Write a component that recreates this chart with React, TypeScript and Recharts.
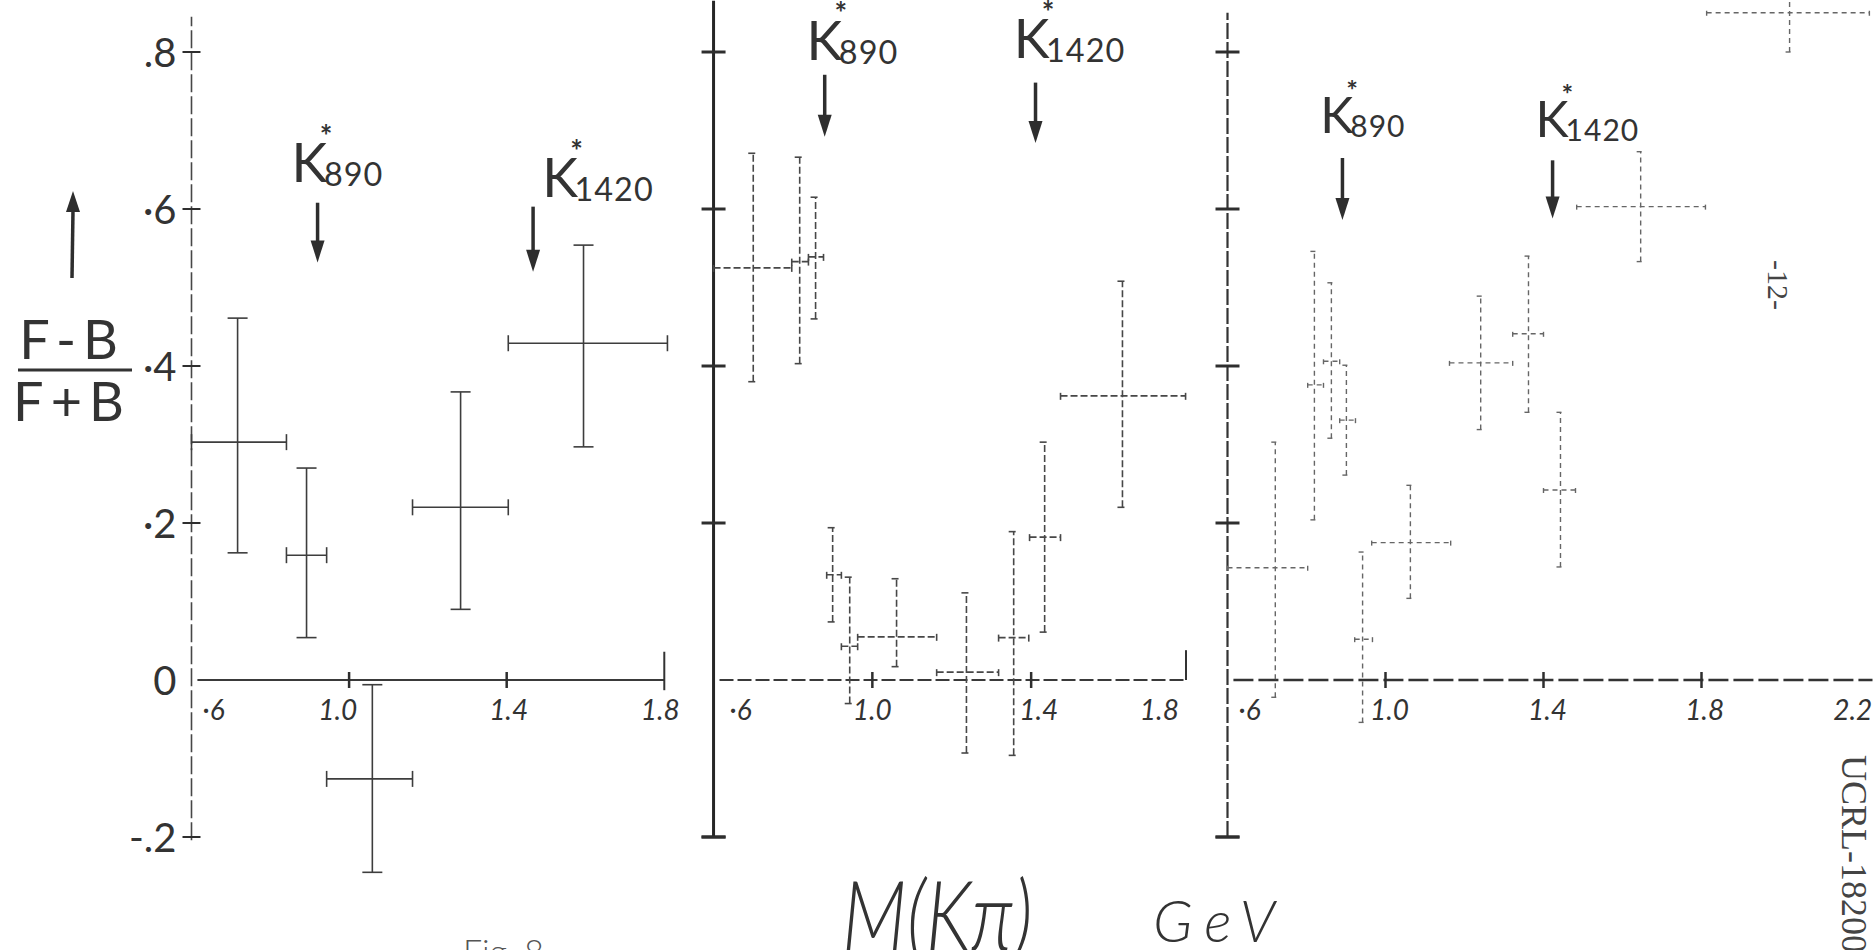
import React from 'react';
import { ScatterChart, Scatter, ErrorBar, XAxis, YAxis, ReferenceLine, ReferenceDot } from 'recharts';

// forward-backward asymmetry (F-B)/(F+B) vs M(Kπ) in GeV, three samples

// panel 1
const p1Mass = [0.717, 0.892, 1.059, 1.283, 1.595];
const p1MassLo = [0.6, 0.841, 0.943, 1.161, 1.404];
const p1MassHi = [0.841, 0.943, 1.161, 1.404, 1.808];
const p1Asym = [0.303, 0.159, -0.126, 0.22, 0.429];
const p1AsymLo = [0.162, 0.054, -0.245, 0.09, 0.297];
const p1AsymHi = [0.461, 0.27, -0.006, 0.367, 0.554];

// panel 2
const p2Mass = [0.7, 0.817, 0.857, 0.9, 0.943, 1.061, 1.237, 1.356, 1.434, 1.63];
const p2MassLo = [0.6, 0.797, 0.839, 0.885, 0.922, 0.963, 1.162, 1.318, 1.396, 1.474];
const p2MassHi = [0.797, 0.839, 0.877, 0.922, 0.963, 1.162, 1.318, 1.394, 1.474, 1.789];
const p2Asym = [0.525, 0.533, 0.539, 0.134, 0.043, 0.055, 0.01, 0.054, 0.182, 0.362];
const p2AsymLo = [0.38, 0.403, 0.46, 0.074, -0.03, 0.017, -0.093, -0.096, 0.061, 0.22];
const p2AsymHi = [0.671, 0.666, 0.615, 0.194, 0.131, 0.129, 0.111, 0.189, 0.303, 0.508];

// panel 3
const p3Mass = [0.721, 0.82, 0.863, 0.901, 0.942, 1.063, 1.241, 1.362, 1.443, 1.646, 2.023];
const p3MassLo = [0.6, 0.803, 0.843, 0.884, 0.922, 0.965, 1.162, 1.322, 1.4, 1.484, 1.813];
const p3MassHi = [0.803, 0.843, 0.884, 0.924, 0.967, 1.165, 1.322, 1.4, 1.481, 1.81, 2.225];
const p3Asym = [0.143, 0.376, 0.406, 0.331, 0.052, 0.175, 0.404, 0.441, 0.242, 0.603, 0.85];
const p3AsymLo = [-0.022, 0.204, 0.308, 0.261, -0.054, 0.104, 0.319, 0.341, 0.144, 0.533, 0.8];
const p3AsymHi = [0.303, 0.546, 0.506, 0.401, 0.163, 0.248, 0.489, 0.54, 0.341, 0.673, 0.92];

// axis ticks and labels
const yCrossTicks = [0.8, 0.6, 0.4, 0.2, -0.2];
const yLabelValues = [0.8, 0.6, 0.4, 0.2, 0, -0.2];
const yLabelText = ['.8', '·6', '·4', '·2', '0', '-.2'];
const p1XTicks = [1.0, 1.4];
const p2XTicks = [1.0, 1.4];
const p3XTicks = [1.0, 1.4, 1.8];
const p1XLabelPos = [0.656, 0.971, 1.405, 1.79];
const p2XLabelPos = [0.668, 1.0, 1.419, 1.723];
const p3XLabelPos = [0.656, 1.01, 1.41, 1.808, 2.183];
const xLabelText = ['·6', '1.0', '1.4', '1.8', '2.2'];

// K* resonances: subscript, arrow position (mass) and label anchor per panel
const resonanceNames = ['890', '1420'];
const p1ArrowMass = [0.92, 1.467];
const p1ArrowTop = [0.608, 0.603];
const p1ArrowTip = [0.532, 0.52];
const p1LabelMass = [0.854, 1.49];
const p1LabelAsym = [0.634, 0.615];
const p2ArrowMass = [0.88, 1.411];
const p2ArrowTop = [0.771, 0.761];
const p2ArrowTip = [0.692, 0.684];
const p2LabelMass = [0.834, 1.356];
const p2LabelAsym = [0.79, 0.792];
const p3ArrowMass = [0.891, 1.423];
const p3ArrowTop = [0.665, 0.662];
const p3ArrowTip = [0.586, 0.588];
const p3LabelMass = [0.835, 1.38];
const p3LabelAsym = [0.697, 0.692];

const W = 1873;
const H = 950;
const ZERO_PX = 680;
const PX_PER_UNIT = 785;
const Y_MAX = ZERO_PX / PX_PER_UNIT;
const Y_MIN = (ZERO_PX - H) / PX_PER_UNIT;
const AXIS_MASS = 0.6;
const X_LABEL_ASYM = -0.037;

const INK = '#333';
const HAND = 'Lato, "Open Sans", "DejaVu Sans", sans-serif';
const TYPE = '"Liberation Serif", "DejaVu Serif", serif';

type Row = { x: number; y: number; ex: [number, number]; ey: [number, number] };

const buildRows = (m: number[], mLo: number[], mHi: number[], a: number[], aLo: number[], aHi: number[]): Row[] =>
  m.map((x, i) => ({ x, y: a[i], ex: [x - mLo[i], mHi[i] - x], ey: [a[i] - aLo[i], aHi[i] - a[i]] }));

const noMarker = () => <g />;

const panels = [
  {
    key: 'p1',
    rows: buildRows(p1Mass, p1MassLo, p1MassHi, p1Asym, p1AsymLo, p1AsymHi),
    axisPx: 191, pxPerGeV: 394, xMin: 0.35, xMax: 1.9,
    yTop: 0.845, yBottom: -0.204, bottomCap: false,
    xEnd: 1.8, endTick: [-0.013, 0.036] as [number, number] | null,
    xTicks: p1XTicks, xLabelPos: p1XLabelPos, showYLabels: true,
    arrowMass: p1ArrowMass, arrowTop: p1ArrowTop, arrowTip: p1ArrowTip,
    labelMass: p1LabelMass, labelAsym: p1LabelAsym, kSize: 54,
    yAxis: { stroke: '#474747', width: 1.6, dash: '18 4' },
    xAxis: { stroke: '#3a3a3a', width: 2, dash: undefined as string | undefined },
    tickHalf: 9, tickWidth: 2,
    bars: { stroke: '#3d3d3d', width: 1.6, dash: undefined as string | undefined, capY: 10, capX: 8 },
  },
  {
    key: 'p2',
    rows: buildRows(p2Mass, p2MassLo, p2MassHi, p2Asym, p2AsymLo, p2AsymHi),
    axisPx: 714, pxPerGeV: 397, xMin: 0.45, xMax: 1.95,
    yTop: Y_MAX - 0.001, yBottom: -0.2, bottomCap: true,
    xEnd: 1.79, endTick: [0, 0.038] as [number, number] | null,
    xTicks: p2XTicks, xLabelPos: p2XLabelPos, showYLabels: false,
    arrowMass: p2ArrowMass, arrowTop: p2ArrowTop, arrowTip: p2ArrowTip,
    labelMass: p2LabelMass, labelAsym: p2LabelAsym, kSize: 54,
    yAxis: { stroke: '#262626', width: 3, dash: undefined as string | undefined },
    xAxis: { stroke: '#3a3a3a', width: 2, dash: '14 4' },
    tickHalf: 12, tickWidth: 3,
    bars: { stroke: '#474747', width: 1.6, dash: '7 3', capY: 5, capX: 4 },
  },
  {
    key: 'p3',
    rows: buildRows(p3Mass, p3MassLo, p3MassHi, p3Asym, p3AsymLo, p3AsymHi),
    axisPx: 1227, pxPerGeV: 395, xMin: 0.5, xMax: 0.6 + (W - 1227) / 395,
    yTop: 0.85, yBottom: -0.2, bottomCap: true,
    xEnd: 0.6 + (W - 1228) / 395, endTick: null,
    xTicks: p3XTicks, xLabelPos: p3XLabelPos, showYLabels: false,
    arrowMass: p3ArrowMass, arrowTop: p3ArrowTop, arrowTip: p3ArrowTip,
    labelMass: p3LabelMass, labelAsym: p3LabelAsym, kSize: 50,
    yAxis: { stroke: '#333', width: 2.2, dash: '16 3' },
    xAxis: { stroke: '#333', width: 2.4, dash: '20 5' },
    tickHalf: 12, tickWidth: 3,
    bars: { stroke: '#666', width: 1.4, dash: '5 4', capY: 4, capX: 3 },
  },
];

type PanelDef = (typeof panels)[number];

const arrowHead = (props: any) => (
  <path d={`M${props.cx - 7},${props.cy - 22} L${props.cx + 7},${props.cy - 22} L${props.cx},${props.cy} Z`} fill="#2e2e2e" />
);

const resonanceLabel = (name: string, size: number) => (props: any) => (
  <g fill={INK} fontFamily={HAND} fontWeight={400}>
    <text x={props.cx} y={props.cy} fontSize={size}>K</text>
    <text x={props.cx + size * 0.6} y={props.cy + 4} fontSize={size * 0.6} letterSpacing={1}>{name}</text>
    <text x={props.cx + size * 0.52} y={props.cy - size * 0.66} fontSize={size * 0.55} fontWeight={700}>*</text>
  </g>
);

const yLabel = (text: string) => (props: any) => (
  <text x={props.cx - 15} y={props.cy} dominantBaseline="central" textAnchor="end" fontSize={40} fill={INK} fontFamily={HAND} fontWeight={400}>
    {text}
  </text>
);

const xLabel = (text: string) => (props: any) => (
  <text x={props.cx} y={props.cy} dominantBaseline="central" textAnchor="middle" fontSize={28} fontStyle="italic" fill={INK} fontFamily={HAND} fontWeight={400}>
    {text}
  </text>
);

const Panel = ({ p }: { p: PanelDef }) => {
  const left = p.axisPx - (AXIS_MASS - p.xMin) * p.pxPerGeV;
  const width = (p.xMax - p.xMin) * p.pxPerGeV;
  const tx = p.tickHalf / p.pxPerGeV;
  const ty = 8 / PX_PER_UNIT;
  const capHalf = 12 / p.pxPerGeV;
  return (
    <div style={{ position: 'absolute', left, top: 0 }}>
      <ScatterChart width={width} height={H} margin={{ top: 0, right: 0, bottom: 0, left: 0 }}>
        <XAxis type="number" dataKey="x" domain={[p.xMin, p.xMax]} hide allowDataOverflow />
        <YAxis type="number" dataKey="y" domain={[Y_MIN, Y_MAX]} hide allowDataOverflow />

        {/* vertical axis with cross ticks */}
        <ReferenceLine
          segment={[{ x: AXIS_MASS, y: p.yBottom }, { x: AXIS_MASS, y: p.yTop }]}
          stroke={p.yAxis.stroke} strokeWidth={p.yAxis.width} strokeDasharray={p.yAxis.dash}
        />
        {p.bottomCap && (
          <ReferenceLine
            segment={[{ x: AXIS_MASS - capHalf, y: p.yBottom }, { x: AXIS_MASS + capHalf, y: p.yBottom }]}
            stroke={p.yAxis.stroke} strokeWidth={3}
          />
        )}
        {yCrossTicks.map((v) => (
          <ReferenceLine key={`yt${v}`} segment={[{ x: AXIS_MASS - tx, y: v }, { x: AXIS_MASS + tx, y: v }]} stroke="#2e2e2e" strokeWidth={p.tickWidth} />
        ))}

        {/* horizontal axis at zero */}
        <ReferenceLine
          segment={[{ x: AXIS_MASS + 0.015, y: 0 }, { x: p.xEnd, y: 0 }]}
          stroke={p.xAxis.stroke} strokeWidth={p.xAxis.width} strokeDasharray={p.xAxis.dash}
        />
        {p.xTicks.map((m) => (
          <ReferenceLine key={`xt${m}`} segment={[{ x: m, y: -ty }, { x: m, y: ty }]} stroke="#2e2e2e" strokeWidth={2.5} />
        ))}
        {p.endTick && (
          <ReferenceLine segment={[{ x: p.xEnd, y: p.endTick[0] }, { x: p.xEnd, y: p.endTick[1] }]} stroke="#333" strokeWidth={2} />
        )}

        {p.xLabelPos.map((m, i) => (
          <ReferenceDot key={`xl${i}`} x={m} y={X_LABEL_ASYM} r={0} shape={xLabel(xLabelText[i])} />
        ))}
        {p.showYLabels &&
          yLabelValues.map((v, i) => (
            <ReferenceDot key={`yl${i}`} x={AXIS_MASS} y={v} r={0} shape={yLabel(yLabelText[i])} />
          ))}

        {/* K* markers */}
        {resonanceNames.map((name, i) => (
          <ReferenceLine
            key={`as${name}`}
            segment={[{ x: p.arrowMass[i], y: p.arrowTop[i] }, { x: p.arrowMass[i], y: p.arrowTip[i] + 18 / PX_PER_UNIT }]}
            stroke="#2e2e2e" strokeWidth={3.5}
          />
        ))}
        {resonanceNames.map((name, i) => (
          <ReferenceDot key={`ah${name}`} x={p.arrowMass[i]} y={p.arrowTip[i]} r={0} shape={arrowHead} />
        ))}
        {resonanceNames.map((name, i) => (
          <ReferenceDot key={`kl${name}`} x={p.labelMass[i]} y={p.labelAsym[i]} r={0} shape={resonanceLabel(name, p.kSize)} />
        ))}

        <Scatter data={p.rows} isAnimationActive={false} shape={noMarker}>
          <ErrorBar dataKey="ey" direction="y" width={p.bars.capY} stroke={p.bars.stroke} strokeWidth={p.bars.width} strokeDasharray={p.bars.dash} />
          <ErrorBar dataKey="ex" direction="x" width={p.bars.capX} stroke={p.bars.stroke} strokeWidth={p.bars.width} strokeDasharray={p.bars.dash} />
        </Scatter>
      </ScatterChart>
    </div>
  );
};

export default function App() {
  return (
    <div style={{ position: 'absolute', left: 0, top: 0, width: W, height: H, overflow: 'hidden', background: '#fff' }}>
      {panels.map((p) => (
        <Panel key={p.key} p={p} />
      ))}
      <svg width={W} height={H} style={{ position: 'absolute', left: 0, top: 0, pointerEvents: 'none' }}>
        {/* ordinate title */}
        <g fill="#333" fontFamily={HAND} fontWeight={400}>
          <text x={72} y={359} fontSize={54} textAnchor="middle" letterSpacing={7}>F-B</text>
          <text x={72} y={421} fontSize={54} textAnchor="middle" letterSpacing={7}>F+B</text>
        </g>
        <line x1={18} y1={370} x2={132} y2={370} stroke="#333" strokeWidth={3} />
        <line x1={72} y1={278} x2={73} y2={210} stroke="#2e2e2e" strokeWidth={3.5} />
        <path d="M66,212 L80,212 L73,191 Z" fill="#2e2e2e" />

        {/* abscissa title */}
        <g fill="#333" fontFamily={HAND} fontWeight={300} fontStyle="italic">
          <text transform="translate(842,950) scale(0.8,1)" fontSize={96}>M(Kπ)</text>
          <text x={1153} y={942} fontSize={58} letterSpacing={12}>GeV</text>
        </g>
        <text x={463} y={964} fontSize={34} fill="#555" fontFamily={HAND} fontWeight={300}>Fig. 8</text>

        {/* page marks */}
        <text transform="translate(1768,260) rotate(90)" fontSize={30} fill="#444" fontFamily={TYPE}>-12-</text>
        <text transform="translate(1842,755) rotate(90)" fontSize={36} fill="#444" fontFamily={TYPE}>UCRL-18200</text>
      </svg>
    </div>
  );
}
